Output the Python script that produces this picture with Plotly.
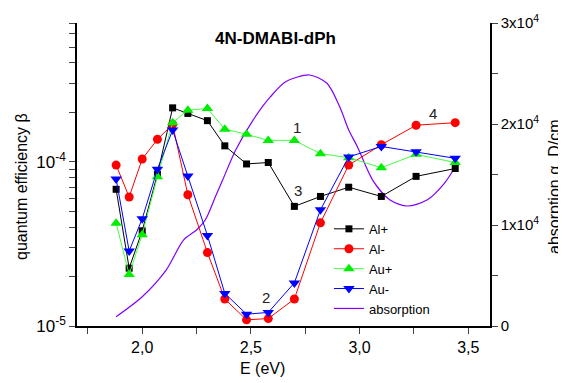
import math
import plotly.graph_objects as go

# ---------------- data ----------------
energy = [1.88, 1.94, 2.00, 2.07, 2.14, 2.21, 2.30, 2.38, 2.48, 2.58, 2.70, 2.82, 2.95, 3.10, 3.26, 3.44]
al_plus = [6.8e-5, 2.25e-5, 3.8e-5, 8.4e-5, 2.13e-4, 1.97e-4, 1.78e-4, 1.25e-4, 9.7e-5, 9.9e-5,
           5.35e-5, 6.15e-5, 7.0e-5, 6.15e-5, 8.15e-5, 9.1e-5]
al_minus = [9.55e-5, 6.1e-5, 1.04e-4, 1.37e-4, 1.69e-4, 6.3e-5, 2.8e-5, 1.46e-5, 1.09e-5, 1.11e-5,
            1.46e-5, 4.25e-5, 9.55e-5, 1.27e-4, 1.67e-4, 1.73e-4]
au_plus = [4.23e-5, 2.06e-5, 3.6e-5, 8.1e-5, 1.73e-4, 2.06e-4, 2.11e-4, 1.58e-4, 1.47e-4, 1.35e-4,
           1.35e-4, 1.12e-4, 1.06e-4, 9.2e-5, 1.11e-4, 9.9e-5]
au_minus = [7.85e-5, 2.86e-5, 4.5e-5, 9.0e-5, 1.56e-4, 8.2e-5, 3.56e-5, 1.58e-5, 1.18e-5, 1.21e-5,
            1.83e-5, 5.1e-5, 1.07e-4, 1.24e-4, 1.15e-4, 1.05e-4]

abs_energy = [1.88, 2.00, 2.11, 2.19, 2.25, 2.29, 2.34, 2.37, 2.43, 2.51, 2.59, 2.66, 2.77, 2.85,
              2.91, 2.95, 2.99, 3.06, 3.14, 3.22, 3.31, 3.39, 3.44]
abs_values = [920, 2900, 5540, 8510, 9500, 10490, 12970, 14450, 17420, 20390, 22700, 24190, 24850,
              24030, 21630, 19400, 17750, 14450, 12470, 11880, 12470, 14130, 15740]

x_ticks = [2.0, 2.5, 3.0, 3.5]
left_tickvals = [1e-5, 2e-5, 3e-5, 4e-5, 5e-5, 6e-5, 7e-5, 8e-5, 9e-5,
                 1e-4, 2e-4, 3e-4, 4e-4, 5e-4, 6e-4, 7e-4]
left_ticktext = ["10<sup>-5</sup>"] + [""] * 8 + ["10<sup>-4</sup>"] + [""] * 6
right_tickvals = [0, 5000, 10000, 15000, 20000, 25000, 30000]
right_ticktext = ["0", "", "1x10<sup>4</sup>", "", "2x10<sup>4</sup>", "", "3x10<sup>4</sup>"]

curve_labels = ["1", "2", "3", "4"]
label_pos_x = [2.71, 2.568, 2.717, 3.34]
label_pos_y = [1.62e-4, 1.49e-5, 6.67e-5, 1.97e-4]

FONT = "Arial, 'Liberation Sans', sans-serif"

# page body has an 8px default margin: figure is drawn 8px in from the top-left
OFF = 8
W, H = 566 - OFF, 383 - OFF
L, R, T, B = 77 - OFF, 490 - OFF, 23 - OFF, 326 - OFF

fig = go.Figure()

series = [
    ("Al+", al_plus, "black", "black", "square", 7),
    ("Al-", al_minus, "#ff0000", "#ff0000", "circle", 9),
    ("Au+", au_plus, "#44ff44", "#00ee00", "triangle-up", 10),
    ("Au-", au_minus, "#0000ff", "#0000ff", "triangle-down", 10),
]
for name, vals, lc, mc, sym, sz in series:
    fig.add_trace(go.Scatter(
        x=energy, y=vals, name=name, mode="lines+markers", yaxis="y2",
        line=dict(color=lc, width=1),
        marker=dict(color=mc, symbol=sym, size=sz, line=dict(width=0)),
    ))

fig.add_trace(go.Scatter(
    x=abs_energy, y=abs_values, name="absorption", mode="lines", yaxis="y",
    line=dict(color="#8000ff", width=1.2, shape="spline", smoothing=0.8),
))

for t, xx, yy in zip(curve_labels, label_pos_x, label_pos_y):
    fig.add_annotation(x=xx, y=math.log10(yy), xref="x", yref="y2", text=t,
                       showarrow=False, font=dict(size=15, color="#222", family=FONT))


def px_ann(xp, yp, text, size, angle=0):
    xp, yp = xp - OFF, yp - OFF
    fig.add_annotation(x=(xp - L) / (R - L), y=(B - yp) / (B - T), xref="paper", yref="paper",
                       text=text, showarrow=False, textangle=angle, xanchor="center",
                       yanchor="middle", font=dict(size=size, color="black", family=FONT))


px_ann(275, 39, "<b>4N-DMABI-dPh</b>", 17)
px_ann(21, 187, "quantum efficiency β", 16, -90)
px_ann(554, 187, "absorption α, D/cm", 16, -90)
px_ann(262, 368, "E (eV)", 16)

fig.update_layout(
    width=W, height=H,
    margin=dict(l=L, r=W - R, t=T, b=H - B, autoexpand=False),
    paper_bgcolor="white", plot_bgcolor="white",
    separators=",.",
    font=dict(family=FONT, size=16, color="black"),
    showlegend=True,
    legend=dict(x=0.61, y=0.37, xanchor="left", yanchor="top", bgcolor="rgba(0,0,0,0)",
                font=dict(size=13, family=FONT), tracegroupgap=0),
    xaxis=dict(range=[1.7, 3.6], tickvals=x_ticks, tickformat=".1f", ticks="outside", ticklen=6,
               tickwidth=1, showline=True, linecolor="black", linewidth=1.5, showgrid=False,
               zeroline=False, automargin=False,
               minor=dict(dtick=0.25, tick0=1.75, ticks="outside", ticklen=6, tickwidth=1),
               tickfont=dict(size=16), title=dict(text="")),
    yaxis=dict(range=[0, 30000], side="right", tickvals=right_tickvals, ticktext=right_ticktext,
               ticks="outside", ticklen=6, tickwidth=1, showline=True, linecolor="black",
               linewidth=1.5, showgrid=False, zeroline=False, automargin=False,
               tickfont=dict(size=15), title=dict(text="")),
    yaxis2=dict(type="log", range=[-5, math.log10(7e-4)], overlaying="y", side="left",
                tickvals=left_tickvals, ticktext=left_ticktext, ticks="outside", ticklen=6,
                tickwidth=1, showline=True, linecolor="black", linewidth=1.5, showgrid=False,
                zeroline=False, automargin=False, tickfont=dict(size=17), title=dict(text="")),
)

fig.write_html("out.html")
